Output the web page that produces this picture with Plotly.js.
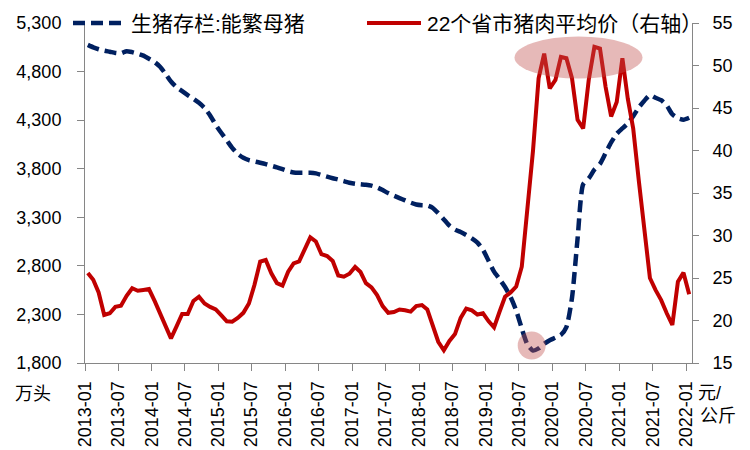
<!DOCTYPE html>
<html>
<head>
<meta charset="utf-8">
<script src="https://cdn.plot.ly/plotly-3.0.1.min.js"></script>
<style>
  body { margin: 0; background: #fff; }
  #chart { width: 750px; height: 450px; }
</style>
</head>
<body>
<div id="chart"></div>
<script>
// monthly categories 2013-01 .. 2022-01
var months = [];
for (var yr = 2013; yr <= 2022; yr++) {
  for (var mo = 1; mo <= 12; mo++) {
    if (yr === 2022 && mo > 1) break;
    months.push(yr + '-' + (mo < 10 ? '0' + mo : mo));
  }
}

// 生猪存栏:能繁母猪 (万头)
var sows = [
  5075, 5050, 5030, 5015, 5004, 4992, 4988, 5010, 5000, 4984, 4964, 4932,
  4898, 4850, 4778, 4698, 4640, 4598, 4558, 4520, 4478, 4425, 4348, 4252,
  4168, 4092, 4015, 3952, 3912, 3888, 3875, 3862, 3848, 3831, 3814, 3795,
  3775, 3762, 3759, 3759, 3759, 3752, 3735, 3718, 3702, 3688, 3672, 3656,
  3645, 3640, 3635, 3626, 3608, 3580, 3549, 3522, 3498, 3474, 3451, 3432,
  3424, 3421, 3398, 3342, 3278, 3214, 3172, 3148, 3118, 3084, 3040, 2966,
  2850, 2740, 2665, 2582, 2478, 2340, 2155, 1990, 1928, 1950, 1998, 2035,
  2061, 2090, 2170, 2470, 3080, 3640, 3700, 3790, 3850, 3960, 4070, 4160,
  4215, 4265, 4340, 4430, 4500, 4558, 4530, 4505, 4450, 4360, 4320, 4305,
  4325
];

// 22个省市猪肉平均价 (元/公斤)
var porkPrice = [
  25.6, 24.8, 23.3, 20.65, 20.85, 21.6, 21.74, 22.9, 23.79, 23.5, 23.6, 23.7,
  22.3, 20.8, 19.4, 17.9, 19.3, 20.76, 20.76, 22.3, 22.8, 22.0, 21.6, 21.3,
  20.6, 19.9, 19.86, 20.3, 20.9, 22.0, 24.2, 26.92, 27.12, 25.55, 24.4, 24.1,
  25.74, 26.73, 26.96, 28.4, 29.78, 29.3, 27.8, 27.59, 27.0, 25.3, 25.15, 25.5,
  26.3, 25.7, 24.4, 23.9, 23.0, 21.7, 20.9, 21.0, 21.3, 21.2, 21.05, 21.7,
  21.82, 21.3, 19.5, 17.5, 16.5, 17.6, 18.4, 20.3, 21.4, 21.2, 20.7, 20.85,
  19.9, 19.2, 21.0, 22.8, 23.3, 24.0, 26.33, 32.8, 40.0, 48.5, 51.4, 47.3,
  48.3, 51.0, 50.85, 48.5, 43.6, 42.6, 48.3, 52.2, 52.0, 47.5, 44.0, 45.7,
  50.85, 46.1, 42.6, 36.5, 30.5, 25.0, 23.6, 22.4, 20.85, 19.47, 24.56, 25.63,
  23.1
];

var sowName = '生猪存栏:能繁母猪';
var priceName = '22个省市猪肉平均价（右轴）';

var tickMonths = months.filter(function (d, i) { return i % 6 === 0; });

var FONT = 'Liberation Sans, Noto Sans CJK SC, sans-serif';
var AXIS_GRAY = '#868686';

var traces = [
  {
    x: months, y: sows, name: sowName, type: 'scatter', mode: 'lines',
    xperiod: 'M1', xperiodalignment: 'middle',
    line: { color: '#002060', width: 4.5, dash: '12px,6px', shape: 'spline', smoothing: 0.6 },
    yaxis: 'y'
  },
  {
    x: months, y: porkPrice, name: priceName, type: 'scatter', mode: 'lines',
    xperiod: 'M1', xperiodalignment: 'middle',
    line: { color: '#C00000', width: 4 },
    yaxis: 'y2'
  }
];

// paper helpers for decorations (plot area px 85..692, 23..363)
function px(v) { return (v - 85) / 607; }
function py(v) { return (363 - v) / 340; }

var layout = {
  width: 750, height: 450,
  margin: { l: 85, r: 58, t: 23, b: 87 },
  paper_bgcolor: '#fff', plot_bgcolor: '#fff',
  font: { family: FONT, size: 18, color: '#000' },
  showlegend: false,
  xaxis: {
    type: 'date',
    range: ['2013-01-01', '2022-02-01'],
    tickmode: 'array', tickvals: tickMonths, ticktext: tickMonths,
    tickangle: -90,
    ticks: 'outside', ticklen: 7, tickcolor: AXIS_GRAY,
    showline: true, linecolor: AXIS_GRAY, linewidth: 1,
    showgrid: false, zeroline: false,
    tickfont: { size: 18 },
    ticklabelstandoff: 3
  },
  yaxis: {
    range: [1800, 5300], tick0: 1800, dtick: 500, tickformat: ',d',
    ticks: 'outside', ticklen: 7, tickcolor: AXIS_GRAY,
    showline: true, linecolor: AXIS_GRAY, linewidth: 1,
    showgrid: false, zeroline: false,
    ticklabelstandoff: 12
  },
  yaxis2: {
    range: [15, 55], tick0: 15, dtick: 5, overlaying: 'y', side: 'right',
    ticks: 'outside', ticklen: 6, tickcolor: AXIS_GRAY,
    showline: true, linecolor: AXIS_GRAY, linewidth: 1,
    showgrid: false, zeroline: false,
    ticklabelstandoff: 10
  },
  shapes: [
    // highlight ellipse around the 2019-2020 price peaks
    { type: 'circle', xref: 'paper', yref: 'paper', layer: 'above',
      x0: px(514.5), x1: px(642.5), y0: py(78.5), y1: py(36.5),
      fillcolor: 'rgba(192,80,77,0.4)', line: { width: 0 } },
    // highlight circle around the sow inventory low
    { type: 'circle', xref: 'paper', yref: 'paper', layer: 'above',
      x0: px(517.7), x1: px(545.7), y0: py(359.5), y1: py(331.5),
      fillcolor: 'rgba(192,80,77,0.4)', line: { width: 0 } },
    // legend samples
    { type: 'line', xref: 'paper', yref: 'paper',
      x0: px(73), x1: px(127), y0: py(23), y1: py(23),
      line: { color: '#002060', width: 4.5, dash: '12px,6px' } },
    { type: 'line', xref: 'paper', yref: 'paper',
      x0: px(367), x1: px(421), y0: py(23), y1: py(23),
      line: { color: '#C00000', width: 4 } }
  ],
  annotations: [
    { text: sowName, xref: 'paper', yref: 'paper', x: px(129), y: py(23),
      xanchor: 'left', yanchor: 'middle', showarrow: false,
      font: { size: 21, family: FONT } },
    { text: priceName, xref: 'paper', yref: 'paper', x: px(425), y: py(23),
      xanchor: 'left', yanchor: 'middle', showarrow: false,
      font: { size: 21, family: FONT } },
    { text: '万头', xref: 'paper', yref: 'paper', x: px(33), y: py(394),
      xanchor: 'center', yanchor: 'middle', showarrow: false,
      font: { size: 18 } },
    { text: '元/', xref: 'paper', yref: 'paper', x: px(696), y: py(393),
      xanchor: 'left', yanchor: 'middle', showarrow: false,
      font: { size: 18 } },
    { text: '公斤', xref: 'paper', yref: 'paper', x: px(698), y: py(416),
      xanchor: 'left', yanchor: 'middle', showarrow: false,
      font: { size: 18 } }
  ]
};

Plotly.newPlot('chart', traces, layout, { displayModeBar: false, staticPlot: true });
</script>
</body>
</html>
